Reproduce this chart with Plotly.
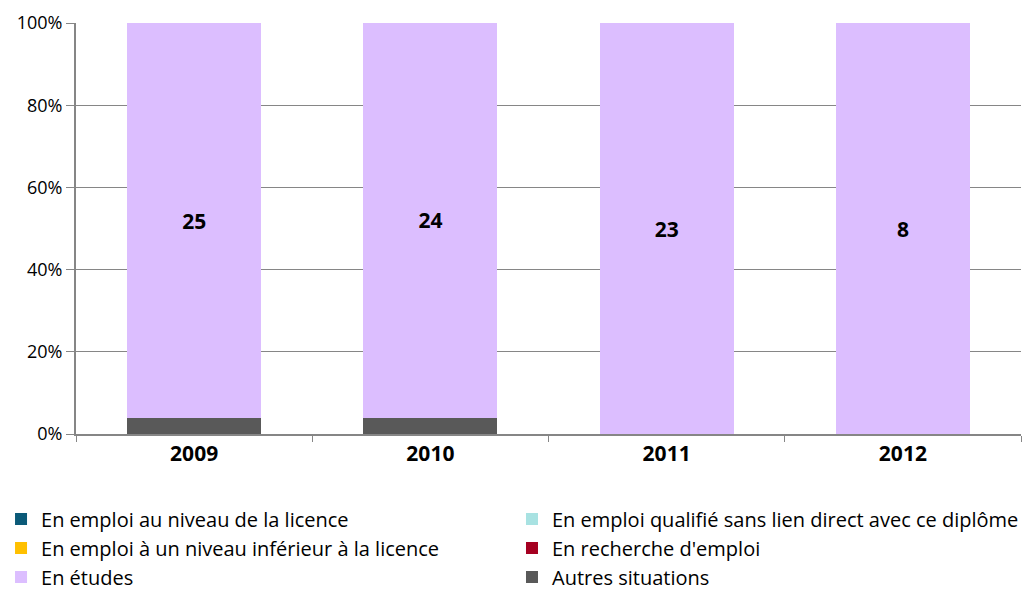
import plotly.graph_objects as go

years = ["2009", "2010", "2011", "2012"]
series_names = [
    "En emploi au niveau de la licence",
    "En emploi qualifié sans lien direct avec ce diplôme",
    "En emploi à un niveau inférieur à la licence",
    "En recherche d'emploi",
    "En études",
    "Autres situations",
]
emploi_licence = [0, 0, 0, 0]
emploi_qualifie = [0, 0, 0, 0]
emploi_inferieur = [0, 0, 0, 0]
recherche = [0, 0, 0, 0]
etudes = [25, 24, 23, 8]
autres = [1, 1, 0, 0]

colors = ["#0B5A78", "#A8E2E2", "#FFC000", "#A50021", "#DCBEFF", "#595959"]

FONT = "Open Sans, sans-serif"

# stacking order bottom->top: Autres at bottom, études above
stack = [
    (5, autres),
    (0, emploi_licence),
    (1, emploi_qualifie),
    (2, emploi_inferieur),
    (3, recherche),
    (4, etudes),
]

fig = go.Figure()
for idx, vals in stack:
    show_text = idx == 4
    fig.add_trace(go.Bar(
        x=years, y=vals, name=series_names[idx],
        marker=dict(color=colors[idx], line=dict(width=0)),
        text=[str(v) for v in vals] if show_text else None,
        textposition="inside" if show_text else "none",
        insidetextanchor="middle",
        textangle=0,
        textfont=dict(family=FONT, size=21, color="black", weight="bold"),
        legend="legend" if idx % 2 == 0 else "legend2",
        legendrank=idx + 1,
    ))

# horizontal legends with wide entries: one entry per row (two columns overall)
leg_common = dict(
    orientation="h", xref="container", yref="container",
    y=0.1563, xanchor="left", yanchor="top",
    entrywidth=470, entrywidthmode="pixels",
    font=dict(size=20, family=FONT), traceorder="normal",
    itemwidth=30, bgcolor="rgba(0,0,0,0)",
)

fig.update_layout(
    barmode="stack", barnorm="percent", bargap=0.433,
    width=1031, height=592,
    margin=dict(l=76, r=10, t=21, b=158),
    plot_bgcolor="white", paper_bgcolor="white",
    font=dict(family=FONT, size=17, color="black"),
    showlegend=True,
    legend=dict(x=0.001, **leg_common),
    legend2=dict(x=0.4966, **leg_common),
    uniformtext=dict(minsize=10, mode="show"),
)
fig.update_yaxes(
    range=[0, 100], dtick=20, ticksuffix="%",
    showgrid=True, gridcolor="#868686", gridwidth=1,
    showline=True, linecolor="#868686", linewidth=2,
    ticks="outside", ticklen=8, tickcolor="#868686",
    tickfont=dict(size=18), zeroline=False,
)
fig.update_xaxes(
    showline=True, linecolor="#868686", linewidth=2,
    ticks="outside", ticklen=6, tickcolor="#868686", tickson="boundaries",
    tickfont=dict(size=21, weight="bold"),
)

fig.write_html("out.html")
